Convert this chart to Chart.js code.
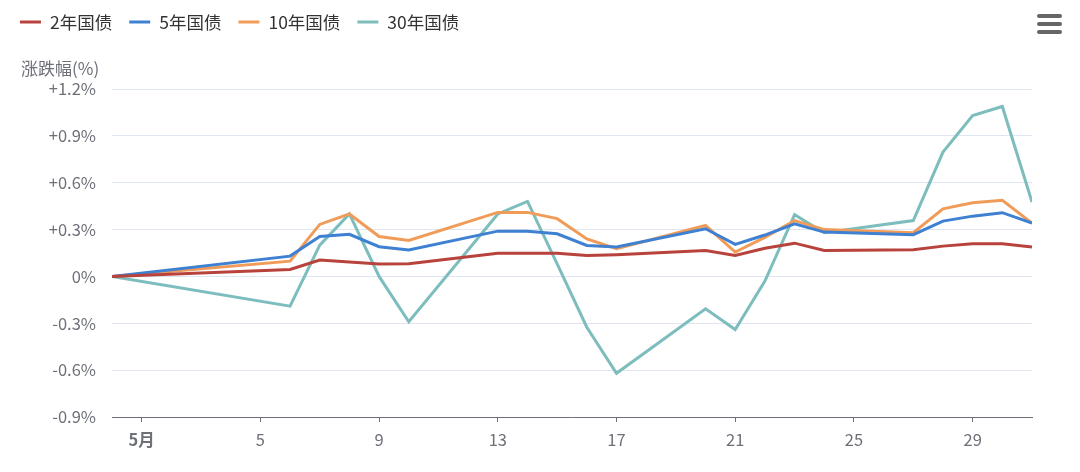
<!DOCTYPE html>
<html>
<head>
<meta charset="utf-8">
<script src="https://cdn.jsdelivr.net/npm/chart.js@4"></script>
<style>
  html, body { margin: 0; padding: 0; background: #fff; }
  #wrap { width: 1080px; height: 472px; position: relative; }
</style>
</head>
<body>
<div id="wrap"><canvas id="chart"></canvas></div>
<script>
'use strict';

// trading days in May (0 = Apr 30 base)
const days = [0, 6, 7, 8, 9, 10, 13, 14, 15, 16, 17, 20, 21, 22, 23, 24, 27, 28, 29, 30, 31];
const xTicks = [1, 5, 9, 13, 17, 21, 25, 29];

const seriesNames = ['2年国债', '5年国债', '10年国债', '30年国债'];
const y2  = [0, 0.045, 0.105, 0.092, 0.079, 0.081, 0.149, 0.149, 0.149, 0.134, 0.139, 0.166, 0.134, 0.18, 0.213, 0.166, 0.171, 0.194, 0.209, 0.209, 0.188];
const y5  = [0, 0.13, 0.256, 0.27, 0.19, 0.17, 0.29, 0.29, 0.273, 0.198, 0.188, 0.305, 0.205, 0.265, 0.337, 0.284, 0.267, 0.354, 0.386, 0.408, 0.341];
const y10 = [0, 0.098, 0.333, 0.40, 0.256, 0.23, 0.41, 0.41, 0.37, 0.24, 0.177, 0.326, 0.156, 0.25, 0.358, 0.30, 0.28, 0.433, 0.472, 0.487, 0.341];
const y30 = [0, -0.19, 0.2, 0.40, 0, -0.29, 0.40, 0.48, 0.08, -0.325, -0.62, -0.207, -0.34, -0.03, 0.395, 0.28, 0.358, 0.796, 1.03, 1.088, 0.476];

const colors = ['#b8423c', '#3e80d2', '#f09c58', '#7dbdbd'];
const allSeries = [y2, y5, y10, y30];

const TEXT = '#6e7079';
const FONT = '"Noto Sans CJK SC", "Noto Sans", sans-serif';

const extras = {
  id: 'extras',
  afterDraw(chart) {
    const ctx = chart.ctx;
    ctx.save();
    // legend
    ctx.font = '17.5px ' + FONT;
    ctx.textBaseline = 'middle';
    ctx.textAlign = 'left';
    let x = 20;
    seriesNames.forEach((name, i) => {
      ctx.strokeStyle = colors[i];
      ctx.lineWidth = 3;
      ctx.beginPath();
      ctx.moveTo(x, 22);
      ctx.lineTo(x + 21, 22);
      ctx.stroke();
      ctx.fillStyle = '#333';
      ctx.fillText(name, x + 30, 22);
      x += 30 + ctx.measureText(name).width + 17;
    });
    // y axis title
    ctx.font = '17px ' + FONT;
    ctx.fillStyle = TEXT;
    ctx.fillText('涨跌幅(%)', 21, 69);
    // menu icon
    ctx.strokeStyle = '#666';
    ctx.lineWidth = 4;
    ctx.lineCap = 'round';
    [16, 24, 32].forEach(y => {
      ctx.beginPath();
      ctx.moveTo(1039, y);
      ctx.lineTo(1060, y);
      ctx.stroke();
    });
    ctx.restore();
  }
};

new Chart(document.getElementById('chart'), {
  type: 'line',
  data: {
    datasets: allSeries.map((vals, i) => ({
      label: seriesNames[i],
      data: vals.map((v, j) => ({ x: days[j], y: v })),
      borderColor: colors[i],
      backgroundColor: colors[i],
      borderWidth: 3,
      pointRadius: 0,
      tension: 0
    }))
  },
  options: {
    responsive: true,
    maintainAspectRatio: false,
    animation: false,
    layout: { padding: { top: 89, right: 48, left: 0, bottom: 0 } },
    plugins: { legend: { display: false }, tooltip: { enabled: false } },
    scales: {
      x: {
        type: 'linear',
        min: 0,
        max: 31,
        afterBuildTicks: s => { s.ticks = xTicks.map(v => ({ value: v })); },
        afterFit: s => { s.height = 55; },
        grid: { drawOnChartArea: false, drawTicks: true, tickLength: 5, color: '#6e7079' },
        border: { color: '#6e7079', width: 1 },
        ticks: {
          color: TEXT,
          padding: 8,
          maxRotation: 0,
          autoSkip: false,
          font: c => ({ family: FONT, size: 16.5, weight: c.tick && c.tick.value === 1 ? 'bold' : 'normal' }),
          callback: v => v === 1 ? '5月' : String(v)
        }
      },
      y: {
        min: -0.9,
        max: 1.2,
        afterFit: s => { s.width = 112; },
        grid: { color: '#e0e6f1', drawTicks: false },
        border: { display: false },
        ticks: {
          stepSize: 0.3,
          color: TEXT,
          padding: 16,
          font: { family: FONT, size: 16.5 },
          callback: v => {
            const r = Math.round(v * 10) / 10;
            if (r === 0) return '0%';
            return (r > 0 ? '+' : '-') + Math.abs(r).toFixed(1) + '%';
          }
        }
      }
    }
  },
  plugins: [extras]
});
</script>
</body>
</html>
